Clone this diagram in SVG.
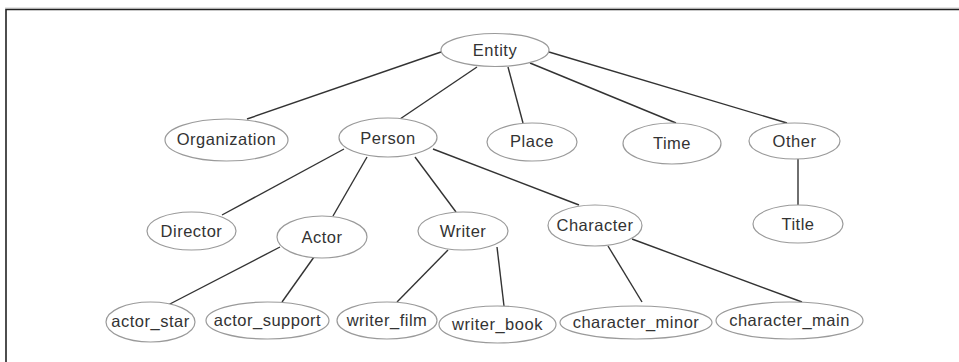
<svg xmlns="http://www.w3.org/2000/svg" width="959" height="362" viewBox="0 0 959 362">
<style>
.n ellipse{fill:#fff;stroke:#9a9a9a;stroke-width:1.2}
.n text{font-family:"Liberation Sans",Arial,sans-serif;font-size:16.5px;letter-spacing:0.5px;fill:#333;text-anchor:middle;dominant-baseline:central}
.e line{stroke:#333;stroke-width:1.4}
</style>
<rect width="959" height="362" fill="#fff"/>
<line x1="5" y1="8" x2="959" y2="8" stroke="#ccc" stroke-width="1"/>
<polyline points="6,362 6,9.5 959,9.5" fill="none" stroke="#222" stroke-width="1.6"/>
<g id="connectors" class="e">
<line x1="441" y1="52" x2="247" y2="119"/>
<line x1="477" y1="67" x2="400" y2="119"/>
<line x1="508" y1="67" x2="523" y2="123"/>
<line x1="530" y1="63" x2="676" y2="123"/>
<line x1="549" y1="52" x2="787" y2="123"/>
<line x1="798" y1="159" x2="798" y2="205" stroke-width="2"/>
<line x1="344" y1="149" x2="222" y2="215"/>
<line x1="367" y1="157" x2="333" y2="216"/>
<line x1="415" y1="157" x2="456" y2="212"/>
<line x1="433" y1="149" x2="579" y2="205"/>
<line x1="280" y1="247" x2="166" y2="306"/>
<line x1="314" y1="257" x2="282" y2="302"/>
<line x1="448" y1="250" x2="397" y2="302"/>
<line x1="497" y1="247" x2="504" y2="306"/>
<line x1="608" y1="246" x2="642" y2="302"/>
<line x1="632" y1="239" x2="802" y2="302"/>
</g>
<g id="entity" class="n"><ellipse cx="495" cy="50" rx="54" ry="16.5"/><text x="495" y="50">Entity</text></g>
<g id="organization" class="n"><ellipse cx="226.5" cy="140" rx="61.5" ry="21"/><text x="226.5" y="139">Organization</text></g>
<g id="person" class="n"><ellipse cx="388" cy="137.5" rx="49" ry="19.5"/><text x="388" y="138">Person</text></g>
<g id="place" class="n"><ellipse cx="532" cy="142" rx="45" ry="19"/><text x="532" y="141">Place</text></g>
<g id="time" class="n"><ellipse cx="672" cy="143.5" rx="49" ry="20.5"/><text x="672" y="143">Time</text></g>
<g id="other" class="n"><ellipse cx="794.5" cy="141" rx="45.5" ry="18"/><text x="794.5" y="141">Other</text></g>
<g id="director" class="n"><ellipse cx="191.5" cy="231" rx="44.5" ry="19"/><text x="191.5" y="231">Director</text></g>
<g id="actor" class="n"><ellipse cx="322" cy="237" rx="45" ry="21"/><text x="322" y="237">Actor</text></g>
<g id="writer" class="n"><ellipse cx="463" cy="231" rx="45" ry="19"/><text x="463" y="231">Writer</text></g>
<g id="character" class="n"><ellipse cx="595" cy="225.5" rx="47" ry="20.5"/><text x="595" y="225">Character</text></g>
<g id="title" class="n"><ellipse cx="798" cy="224" rx="45" ry="19"/><text x="798" y="224">Title</text></g>
<g id="actor_star" class="n"><ellipse cx="150.5" cy="322" rx="44.5" ry="20"/><text x="150.5" y="321">actor_star</text></g>
<g id="actor_support" class="n"><ellipse cx="267.5" cy="320.5" rx="61.5" ry="18.5"/><text x="267.5" y="320">actor_support</text></g>
<g id="writer_film" class="n"><ellipse cx="387" cy="320.5" rx="50" ry="18.5"/><text x="387" y="320">writer_film</text></g>
<g id="writer_book" class="n"><ellipse cx="497.5" cy="324.5" rx="58.5" ry="18.5"/><text x="497.5" y="324">writer_book</text></g>
<g id="character_minor" class="n"><ellipse cx="636" cy="322.5" rx="76" ry="16.5"/><text x="636" y="322">character_minor</text></g>
<g id="character_main" class="n"><ellipse cx="789.5" cy="320.5" rx="73.5" ry="18.5"/><text x="789.5" y="320">character_main</text></g>
</svg>
